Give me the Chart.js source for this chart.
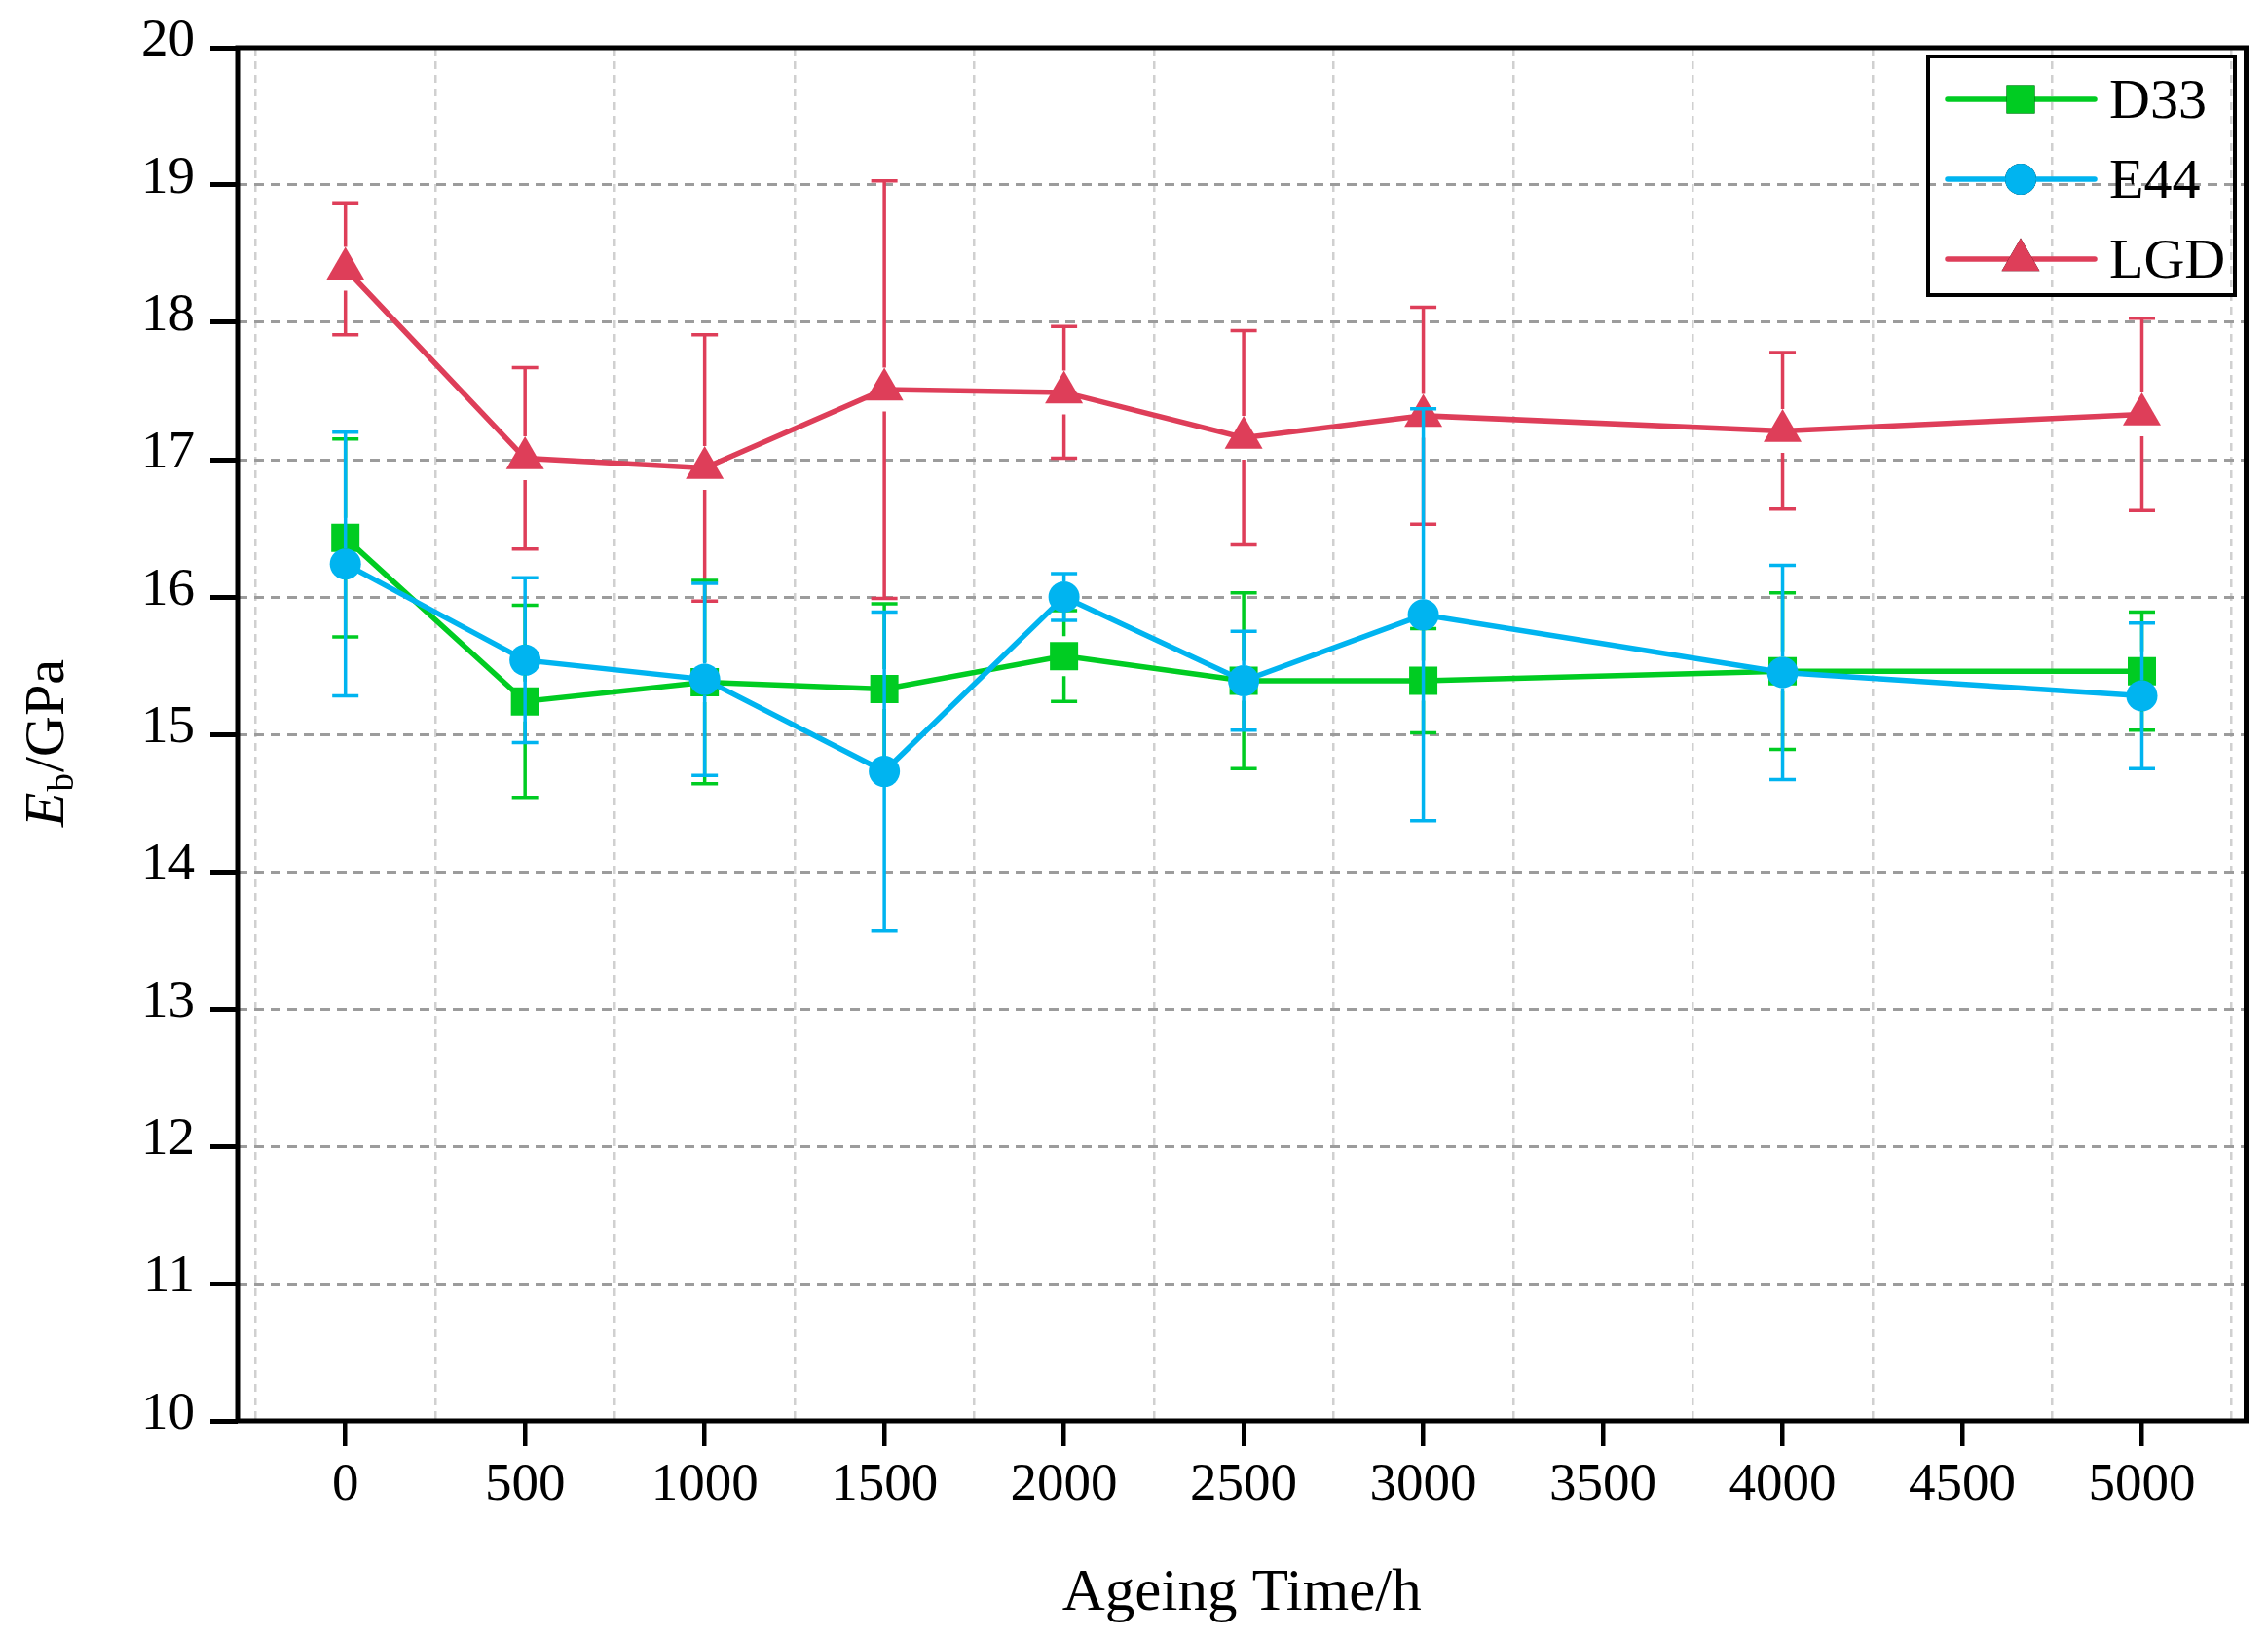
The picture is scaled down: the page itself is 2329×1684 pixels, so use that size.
<!DOCTYPE html>
<html>
<head>
<meta charset="utf-8">
<script src="https://cdn.jsdelivr.net/npm/chart.js@4.4.1/dist/chart.umd.min.js"></script>
<style>
  html, body { margin: 0; padding: 0; background: #fff; }
  #chart { display: block; }
</style>
</head>
<body>
<canvas id="chart" width="2329" height="1684"></canvas>
<script>
// Ageing time (h)
const ageingTime = [0, 500, 1000, 1500, 2000, 2500, 3000, 4000, 5000];

// Eb values (GPa) and error half-widths
const d33Values = [16.43, 15.24, 15.38, 15.33, 15.57, 15.39, 15.39, 15.46, 15.46];
const d33Errors = [0.72, 0.70, 0.74, 0.62, 0.33, 0.64, 0.38, 0.57, 0.43];
const e44Values = [16.24, 15.54, 15.40, 14.73, 16.00, 15.39, 15.87, 15.45, 15.28];
const e44Errors = [0.96, 0.60, 0.70, 1.16, 0.17, 0.36, 1.50, 0.78, 0.53];
const lgdValues = [18.39, 17.01, 16.94, 17.51, 17.49, 17.16, 17.32, 17.21, 17.33];
const lgdErrors = [0.48, 0.66, 0.97, 1.52, 0.48, 0.78, 0.79, 0.57, 0.70];

// Axis ticks
const xTickLabels = [0, 500, 1000, 1500, 2000, 2500, 3000, 3500, 4000, 4500, 5000];
const xGridLines = [-250, 250, 750, 1250, 1750, 2250, 2750, 3250, 3750, 4250, 4750, 5250];
const yTicks = [10, 11, 12, 13, 14, 15, 16, 17, 18, 19, 20];

const FONT = "'Liberation Serif', 'DejaVu Serif', serif";
const GREEN = '#00CC22';
const BLUE = '#00B4F0';
const RED = '#DE3E59';

const toPoints = vals => vals.map((v, i) => ({ x: ageingTime[i], y: v }));

// error bars, drawn just before each dataset so its markers sit on top
const errorBars = {
  id: 'errorBars',
  beforeDatasetDraw(chart, args) {
    const ds = chart.data.datasets[args.index];
    if (!ds.errors) return;
    const ctx = chart.ctx;
    const xs = chart.scales.x, ys = chart.scales.y;
    const gap = ds.pointRadius;
    ctx.save();
    ctx.strokeStyle = ds.borderColor;
    ctx.lineWidth = 3.5;
    ds.errors.forEach((e, i) => {
      const v = ds.data[i].y;
      const px = xs.getPixelForValue(ds.data[i].x);
      const py = ys.getPixelForValue(v);
      const top = ys.getPixelForValue(v + e);
      const bot = ys.getPixelForValue(v - e);
      ctx.beginPath();
      if (py - top > gap) { ctx.moveTo(px, top); ctx.lineTo(px, py - gap); }
      if (bot - py > gap) { ctx.moveTo(px, py + gap); ctx.lineTo(px, bot); }
      ctx.moveTo(px - 13.5, top); ctx.lineTo(px + 13.5, top);
      ctx.moveTo(px - 13.5, bot); ctx.lineTo(px + 13.5, bot);
      ctx.stroke();
    });
    ctx.restore();
  }
};

// frame around the plot, y title and the boxed legend
const decorations = {
  id: 'decorations',
  afterDatasetsDraw(chart) {
    const ctx = chart.ctx;
    const a = chart.chartArea;
    ctx.save();
    ctx.strokeStyle = '#000';
    ctx.lineWidth = 5;
    ctx.strokeRect(a.left, a.top, a.right - a.left, a.bottom - a.top);

    // y axis title: E (italic) b (subscript) /GPa
    ctx.translate(45, 763);
    ctx.rotate(-Math.PI / 2);
    ctx.fillStyle = '#000';
    ctx.textBaseline = 'alphabetic';
    ctx.font = 'italic 58px ' + FONT;
    const wE = ctx.measureText('E').width;
    ctx.font = '37px ' + FONT;
    const wB = ctx.measureText('b').width;
    ctx.font = '58px ' + FONT;
    const wRest = ctx.measureText('/GPa').width;
    let x = -(wE + wB + wRest + 2) / 2;
    const base = 20;
    ctx.font = 'italic 58px ' + FONT;
    ctx.fillText('E', x, base);
    x += wE + 1;
    ctx.font = '37px ' + FONT;
    ctx.fillText('b', x, base + 10);
    x += wB + 1;
    ctx.font = '58px ' + FONT;
    ctx.fillText('/GPa', x, base);
    ctx.restore();

    // legend
    ctx.save();
    ctx.strokeStyle = '#000';
    ctx.lineWidth = 4;
    ctx.strokeRect(1980, 58, 315, 245);
    const rows = [102, 184, 266];
    chart.data.datasets.forEach((ds, i) => {
      const y = rows[i];
      ctx.strokeStyle = ds.borderColor;
      ctx.lineWidth = 5.5;
      ctx.lineCap = 'round';
      ctx.beginPath();
      ctx.moveTo(2000, y);
      ctx.lineTo(2151, y);
      ctx.stroke();
      Chart.helpers.drawPoint(ctx, {
        pointStyle: ds.pointStyle,
        radius: ds.pointRadius,
        borderWidth: 0
      }, 2075, ds.pointStyle === 'triangle' ? y + 1 : y);
      ctx.fillStyle = ds.backgroundColor;
      ctx.fill();
      ctx.fillStyle = '#000';
      ctx.font = '58px ' + FONT;
      ctx.textBaseline = 'middle';
      ctx.fillText(ds.label, 2166, y + 4);
    });
    ctx.restore();
  }
};

const series = [
  { label: 'D33', values: d33Values, errors: d33Errors, color: GREEN, style: 'rect', radius: 20.5, order: 2 },
  { label: 'E44', values: e44Values, errors: e44Errors, color: BLUE, style: 'circle', radius: 16, order: 1 },
  { label: 'LGD', values: lgdValues, errors: lgdErrors, color: RED, style: 'triangle', radius: 22.5, order: 3 }
];

new Chart(document.getElementById('chart'), {
  type: 'line',
  data: {
    datasets: series.map(s => ({
      label: s.label,
      data: toPoints(s.values),
      errors: s.errors,
      borderColor: s.color,
      backgroundColor: s.color,
      pointBackgroundColor: s.color,
      pointBorderWidth: 0,
      pointStyle: s.style,
      pointRadius: s.radius,
      pointHoverRadius: s.radius,
      borderWidth: 5.5,
      tension: 0,
      fill: false,
      order: s.order
    }))
  },
  options: {
    responsive: false,
    animation: false,
    devicePixelRatio: 1,
    layout: { padding: { left: 0, right: 22, top: 47, bottom: 0 } },
    plugins: {
      legend: { display: false },
      tooltip: { enabled: false }
    },
    scales: {
      x: {
        type: 'linear',
        min: -300,
        max: 5290,
        afterFit(scale) { scale.height = 225; },
        afterBuildTicks(scale) {
          const vals = xTickLabels.concat(xGridLines).sort((a, b) => a - b);
          scale.ticks = vals.map(v => ({ value: v }));
        },
        border: { display: false, dash: [8, 6] },
        grid: {
          color: c => (c.tick && xGridLines.includes(c.tick.value)) ? '#d0d0d0' : 'rgba(0,0,0,0)',
          lineWidth: 2.5,
          drawTicks: true,
          tickLength: 26,
          tickWidth: 4.5,
          tickColor: c => (c.tick && xTickLabels.includes(c.tick.value)) ? '#000' : 'rgba(0,0,0,0)'
        },
        ticks: {
          autoSkip: false,
          maxRotation: 0,
          padding: 8,
          color: '#000',
          font: { family: FONT, size: 55 },
          callback: v => xTickLabels.includes(v) ? String(v) : ''
        },
        title: {
          display: true,
          text: 'Ageing Time/h',
          color: '#000',
          font: { family: FONT, size: 61 },
          padding: { top: 0, bottom: 10 }
        }
      },
      y: {
        min: 10,
        max: 20,
        afterFit(scale) { scale.width = 244; },
        afterBuildTicks(scale) {
          scale.ticks = yTicks.map(v => ({ value: v }));
        },
        border: { display: false, dash: [10, 7] },
        grid: {
          color: '#9c9c9c',
          lineWidth: 3,
          drawTicks: true,
          tickLength: 28,
          tickWidth: 5,
          tickColor: '#000'
        },
        ticks: {
          padding: 16,
          labelOffset: -6,
          color: '#000',
          font: { family: FONT, size: 55 }
        }
      }
    }
  },
  plugins: [errorBars, decorations]
});
</script>
</body>
</html>
